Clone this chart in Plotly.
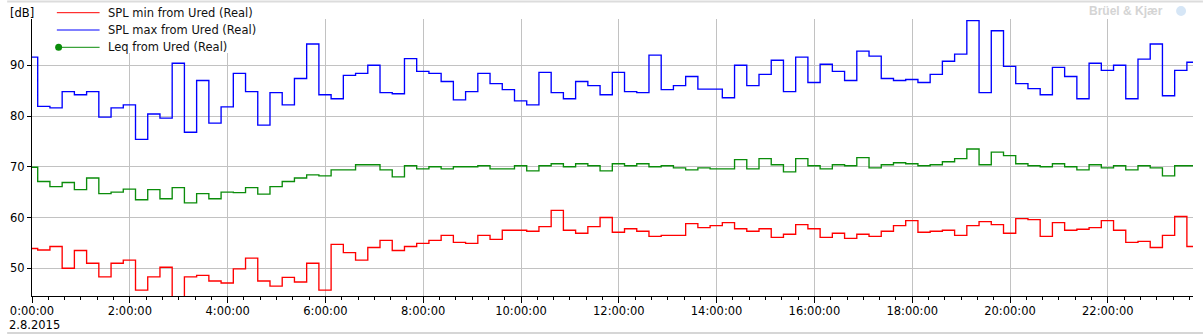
import plotly.graph_objects as go
import pandas as pd

# ---------------- data (15-minute intervals, starting 1.8.2015 23:52) ----------------
interval_start = "2015-08-01 23:52:00"
interval_minutes = 15

spl_max = [91.6, 81.9, 81.6, 84.8, 84.2, 84.8, 79.8, 81.6, 82.2, 75.4,
           80.4, 79.6, 90.4, 76.8, 87.0, 78.6, 81.8, 88.4, 84.8, 78.2,
           84.6, 82.2, 87.4, 94.2, 84.2, 83.4, 88.0, 88.4, 90.0, 84.6,
           84.4, 91.3, 88.8, 88.4, 86.8, 83.2, 84.8, 88.4, 86.4, 85.2,
           83.0, 82.2, 88.6, 84.6, 83.4, 86.8, 86.0, 84.2, 88.6, 84.8,
           84.6, 92.0, 85.2, 86.0, 87.8, 85.3, 85.3, 83.6, 90.0, 86.0,
           88.2, 91.0, 84.8, 91.6, 86.6, 90.2, 88.8, 87.0, 92.8, 91.8,
           87.4, 87.0, 87.2, 86.6, 88.2, 90.8, 92.2, 98.8, 84.6, 96.8,
           89.8, 86.4, 85.4, 84.2, 89.6, 87.8, 83.4, 90.4, 89.0, 90.0,
           83.4, 91.2, 94.2, 84.0, 89.0, 90.6]

leq = [69.9, 67.1, 66.1, 66.9, 65.5, 67.8, 64.7, 65.0, 65.6, 63.5,
       65.5, 63.7, 65.9, 62.9, 64.7, 63.7, 65.0, 64.9, 65.9, 64.6,
       66.1, 67.1, 67.8, 68.4, 68.2, 69.4, 69.4, 70.4, 70.4, 69.4,
       68.0, 70.2, 69.6, 70.0, 69.6, 70.0, 70.0, 70.2, 69.6, 69.6,
       70.2, 69.2, 70.2, 70.6, 70.0, 70.6, 70.2, 69.2, 70.6, 70.2,
       70.6, 70.0, 70.2, 69.8, 69.4, 69.8, 69.6, 69.6, 71.4, 69.6,
       71.6, 70.4, 69.0, 71.6, 70.2, 69.6, 70.4, 70.2, 71.8, 69.8,
       70.4, 70.8, 70.6, 70.2, 70.4, 71.0, 71.6, 73.5, 70.4, 72.9,
       72.2, 70.6, 70.2, 70.0, 70.6, 70.0, 69.4, 70.4, 69.8, 70.2,
       69.4, 70.2, 69.8, 68.2, 70.2, 70.2]

spl_min = [53.9, 53.6, 54.3, 50.0, 53.5, 51.0, 48.3, 51.0, 51.6, 45.7,
           48.3, 50.2, 43.0, 48.3, 48.6, 47.5, 47.1, 49.9, 52.0, 47.5,
           46.5, 48.2, 47.3, 51.0, 45.7, 54.7, 53.1, 51.6, 54.1, 55.5,
           53.5, 54.3, 54.9, 55.5, 56.5, 55.1, 54.9, 56.5, 55.7, 57.5,
           57.5, 57.3, 58.2, 61.4, 57.5, 56.9, 58.2, 60.0, 57.1, 57.8,
           57.3, 56.3, 56.5, 56.5, 58.8, 58.0, 58.4, 59.0, 57.8, 57.3,
           57.8, 56.1, 56.7, 58.6, 57.8, 56.1, 56.9, 55.9, 56.7, 56.3,
           57.3, 58.4, 59.4, 57.1, 57.3, 57.5, 56.5, 58.4, 59.2, 58.6,
           56.9, 59.8, 59.6, 56.3, 59.0, 57.5, 57.7, 58.0, 59.4, 57.5,
           55.1, 55.3, 54.1, 56.5, 60.2, 54.3]

series_names = ["SPL min from Ured (Real)", "SPL max from Ured (Real)", "Leq from Ured (Real)"]
series_colors = ["#ff0000", "#0000ff", "#0a8c0a"]
y_ticks = [50, 60, 70, 80, 90]
date_label = "2.8.2015"
y_unit = "[dB]"
brand = "Brüel & Kjær"

# ---------------- layout geometry ----------------
W, H = 1203, 334
ML, MR, MT, MB = 25, 10, 19, 38
PW = W - ML - MR
PH = H - MT - MB


def px(x):
    return (x - ML) / PW


def py(y):
    return (H - MB - y) / PH


n = len(spl_max)
times = pd.date_range(interval_start, periods=n + 1, freq=f"{interval_minutes}min")

fig = go.Figure()
for vals, name, col in [(spl_min, series_names[0], series_colors[0]),
                        (leq, series_names[2], series_colors[2]),
                        (spl_max, series_names[1], series_colors[1])]:
    fig.add_trace(go.Scatter(x=times, y=list(vals) + [vals[-1]], mode="lines",
                             line=dict(shape="hv", color=col, width=1.35),
                             name=name, showlegend=False, hoverinfo="skip"))

FS = 11.5
font = dict(family="DejaVu Sans", size=FS, color="#000000")
grid = "#c2c2c2"

fig.update_layout(
    width=W, height=H,
    margin=dict(l=ML, r=MR, t=MT, b=MB, pad=0),
    paper_bgcolor="white", plot_bgcolor="white",
    font=font, showlegend=False,
    xaxis=dict(type="date", range=["2015-08-02 00:00:00", "2015-08-02 23:44:30"],
               tick0="2015-08-02 00:00:00", dtick=2 * 3600 * 1000,
               tickformat="%-H:%M:%S", showgrid=True, gridcolor=grid, gridwidth=1,
               showline=True, linecolor="black", linewidth=1,
               ticks="outside", ticklen=6, tickcolor="black",
               ticklabelstandoff=-2,
               minor=dict(dtick=20 * 60 * 1000, ticks="outside", ticklen=3,
                          tickcolor="black", showgrid=False),
               zeroline=False, fixedrange=True, tickfont=font),
    yaxis=dict(range=[44.54, 99.12], tickvals=y_ticks, showgrid=True,
               gridcolor=grid, gridwidth=1, showline=True, linecolor="black",
               linewidth=1, ticks="outside", ticklen=4, tickcolor="black",
               zeroline=False, fixedrange=True, tickfont=font),
)

shapes = []
# window borders
shapes.append(dict(type="line", xref="paper", yref="paper", x0=px(0), x1=px(W),
                   y0=py(1.5), y1=py(1.5), line=dict(color="#dcdcdc", width=2)))
shapes.append(dict(type="line", xref="paper", yref="paper", x0=px(0), x1=px(W),
                   y0=py(333), y1=py(333), line=dict(color="#d6d6d6", width=2)))
# legend background
shapes.append(dict(type="rect", xref="paper", yref="paper", x0=px(45), x1=px(252),
                   y0=py(53), y1=py(3), fillcolor="white", line=dict(width=0),
                   layer="above"))
rows = [12.7, 30.0, 47.3]
legend_cols = [series_colors[0], series_colors[1], series_colors[2]]
for r, c in zip(rows, legend_cols):
    shapes.append(dict(type="line", xref="paper", yref="paper", x0=px(50), x1=px(93),
                       y0=py(r), y1=py(r), line=dict(color=c, width=1), layer="above"))
shapes.append(dict(type="circle", xref="paper", yref="paper", x0=px(48.3), x1=px(55.3),
                   y0=py(50.8), y1=py(43.8), fillcolor=series_colors[2],
                   line=dict(color=series_colors[2], width=0), layer="above"))
# logo blob next to brand
shapes.append(dict(type="circle", xref="paper", yref="paper", x0=px(1176), x1=px(1186),
                   y0=py(16), y1=py(6), fillcolor="#d6e6f6", line=dict(width=0),
                   layer="above"))
fig.update_layout(shapes=shapes)

ann = []
for r, name in zip(rows, [series_names[0], series_names[1], series_names[2]]):
    ann.append(dict(xref="paper", yref="paper", x=px(99), y=py(r), text=name,
                    showarrow=False, xanchor="left", yanchor="middle",
                    font=dict(family="DejaVu Sans", size=FS, color="#111111")))
ann.append(dict(xref="paper", yref="paper", x=px(1), y=py(13), text=y_unit,
                showarrow=False, xanchor="left", yanchor="middle", font=font))
ann.append(dict(xref="paper", yref="paper", x=px(0), y=py(325), text=date_label,
                showarrow=False, xanchor="left", yanchor="middle", font=font))
ann.append(dict(xref="paper", yref="paper", x=px(1086), y=py(11), text="<b>" + brand + "</b>",
                showarrow=False, xanchor="left", yanchor="middle",
                font=dict(family="Liberation Sans", size=12, color="#d4d4d4")))
fig.update_layout(annotations=ann)

fig.write_html("out.html")
